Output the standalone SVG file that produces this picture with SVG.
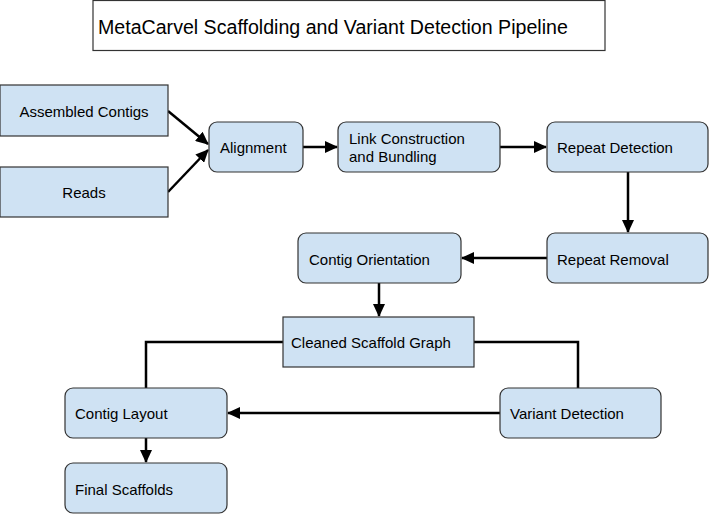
<svg xmlns="http://www.w3.org/2000/svg" width="709" height="514" viewBox="0 0 709 514">
<style>
.box{fill:#cfe2f3;stroke:#333;stroke-width:1.2}
.t{font-family:"Liberation Sans",Arial,sans-serif;font-size:15px;fill:#000;dominant-baseline:central}
.c{stroke:#000;stroke-width:2.5;fill:none}
</style>
<defs>
<marker id="ah" markerWidth="13" markerHeight="12" refX="12" refY="6" orient="auto" markerUnits="userSpaceOnUse" viewBox="0 0 13 12">
<path d="M0,0 L13,6 L0,12 z" fill="#000"/>
</marker>
</defs>
<rect width="709" height="514" fill="#fff"/>
<g id="title">
<rect x="93" y="0.5" width="512" height="50" fill="#fff" stroke="#333" stroke-width="1.2"/>
<text x="98" y="27" class="t" style="font-size:19.6px">MetaCarvel Scaffolding and Variant Detection Pipeline</text>
</g>
<g id="connectors">
<line class="c" x1="168" y1="111" x2="208" y2="144" marker-end="url(#ah)"/>
<line class="c" x1="168" y1="192" x2="208" y2="150" marker-end="url(#ah)"/>
<line class="c" x1="303" y1="147" x2="337" y2="147" marker-end="url(#ah)"/>
<line class="c" x1="500" y1="147" x2="546" y2="147" marker-end="url(#ah)"/>
<line class="c" x1="628" y1="172" x2="628" y2="232" marker-end="url(#ah)"/>
<line class="c" x1="547" y1="258" x2="462" y2="258" marker-end="url(#ah)"/>
<line class="c" x1="379" y1="283" x2="379" y2="316" marker-end="url(#ah)"/>
<polyline class="c" points="283,342 146,342 146,388"/>
<polyline class="c" points="474,342 578,342 578,388"/>
<line class="c" x1="500" y1="413" x2="228" y2="413" marker-end="url(#ah)"/>
<line class="c" x1="146" y1="438" x2="146" y2="462" marker-end="url(#ah)"/>
</g>
<g id="assembled-contigs">
<rect class="box" x="0" y="85" width="168" height="51"/>
<text class="t" x="84" y="111" text-anchor="middle">Assembled Contigs</text>
</g>
<g id="reads">
<rect class="box" x="0" y="167" width="168" height="50"/>
<text class="t" x="84" y="192" text-anchor="middle">Reads</text>
</g>
<g id="alignment">
<rect class="box" x="209" y="122" width="94" height="50" rx="8"/>
<text class="t" x="220" y="147">Alignment</text>
</g>
<g id="link-construction">
<rect class="box" x="338" y="122" width="162" height="50" rx="8"/>
<text class="t" x="349" y="138">Link Construction</text>
<text class="t" x="349" y="156">and Bundling</text>
</g>
<g id="repeat-detection">
<rect class="box" x="547" y="122" width="161" height="50" rx="8"/>
<text class="t" x="557" y="147">Repeat Detection</text>
</g>
<g id="repeat-removal">
<rect class="box" x="547" y="233" width="161" height="50" rx="8"/>
<text class="t" x="557" y="259">Repeat Removal</text>
</g>
<g id="contig-orientation">
<rect class="box" x="298" y="233" width="163" height="50" rx="8"/>
<text class="t" x="309" y="259">Contig Orientation</text>
</g>
<g id="cleaned-scaffold-graph">
<rect class="box" x="283" y="317" width="191" height="50"/>
<text class="t" x="291" y="342">Cleaned Scaffold Graph</text>
</g>
<g id="contig-layout">
<rect class="box" x="65" y="388" width="162" height="50" rx="8"/>
<text class="t" x="75" y="413">Contig Layout</text>
</g>
<g id="variant-detection">
<rect class="box" x="500" y="388" width="161" height="50" rx="8"/>
<text class="t" x="510" y="413">Variant Detection</text>
</g>
<g id="final-scaffolds">
<rect class="box" x="65" y="463" width="162" height="50" rx="8"/>
<text class="t" x="75" y="489">Final Scaffolds</text>
</g>
</svg>
